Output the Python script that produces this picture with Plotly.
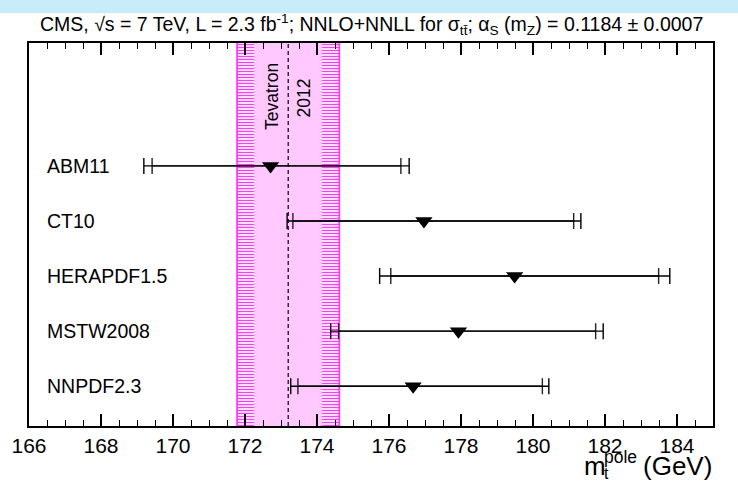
import plotly.graph_objects as go

# ---- data ----
pdf_sets = ["ABM11", "CT10", "HERAPDF1.5", "MSTW2008", "NNPDF2.3"]
row_pos = [5, 4, 3, 2, 1]
mt_pole = [172.71, 176.97, 179.49, 177.93, 176.67]
err_tot_plus = [3.85, 4.36, 4.31, 4.02, 3.77]
err_tot_minus = [3.52, 3.80, 3.75, 3.55, 3.40]
err_in_plus = [3.62, 4.16, 4.00, 3.81, 3.59]
err_in_minus = [3.29, 3.64, 3.44, 3.33, 3.20]

tev_mt = 173.2
tev_inner = 0.94
tev_outer = 1.42

x_ticks = [166, 168, 170, 172, 174, 176, 178, 180, 182, 184]
x_range = [166, 185]
y_range = [0.278, 7.231]

# ---- layout geometry (pixels) ----
W, H = 738, 481
ML, MR, MT, MB = 29, 25, 43, 55
PW, PH = W - ML - MR, H - MT - MB


def px(xp):
    return (xp - ML) / PW


def py(yp):
    return (H - MB - yp) / PH


FONT = "Liberation Sans, Arial, Helvetica, sans-serif"

fig = go.Figure()

# Tevatron band: hatched outer parts and solid inner part
pink = "#ffc8ff"
mag = "#ff3cff"
band_mid = (y_range[0] + y_range[1]) / 2
band_w = (y_range[1] - y_range[0]) * 1.5
for base, width, hatched in [
    (tev_mt - tev_outer, tev_outer - tev_inner, True),
    (tev_mt - tev_inner, 2 * tev_inner, False),
    (tev_mt + tev_inner, tev_outer - tev_inner, True),
]:
    marker = dict(color=pink, line=dict(width=0))
    if hatched:
        marker["pattern"] = dict(shape="-", size=3, solidity=0.4,
                                 fgcolor=mag, bgcolor="#ffeeff", fillmode="replace")
    fig.add_trace(go.Bar(
        x=[width], base=[base], y=[band_mid], width=[band_w],
        orientation="h", marker=marker, showlegend=False, hoverinfo="skip"))

# band edge lines
for xe in [tev_mt - tev_outer, tev_mt + tev_outer]:
    fig.add_trace(go.Scatter(x=[xe, xe], y=y_range, mode="lines",
                             line=dict(color=mag, width=1.8),
                             showlegend=False, hoverinfo="skip"))
# Tevatron central value (dashed)
fig.add_trace(go.Scatter(x=[tev_mt, tev_mt], y=y_range, mode="lines",
                         line=dict(color="black", width=1.2, dash="4px,3px"),
                         showlegend=False, hoverinfo="skip"))

# inner uncertainty caps
fig.add_trace(go.Scatter(
    x=mt_pole, y=row_pos, mode="markers",
    marker=dict(size=1, color="rgba(0,0,0,0)"),
    error_x=dict(type="data", symmetric=False, array=err_in_plus,
                 arrayminus=err_in_minus, color="#222222", thickness=1.4, width=8),
    showlegend=False, hoverinfo="skip"))
# total uncertainty + central values
fig.add_trace(go.Scatter(
    x=mt_pole, y=row_pos, mode="markers",
    marker=dict(symbol="triangle-down", size=15, color="black"),
    error_x=dict(type="data", symmetric=False, array=err_tot_plus,
                 arrayminus=err_tot_minus, color="black", thickness=1.4, width=8),
    showlegend=False, hoverinfo="skip"))

annotations = []
for name, yv in zip(pdf_sets, row_pos):
    annotations.append(dict(x=px(45), y=yv, xref="paper", yref="y", text=name,
                            showarrow=False, xanchor="left", yanchor="middle",
                            font=dict(family=FONT, size=19.5, color="black")))

annotations.append(dict(x=tev_mt - 0.45, y=py(97), xref="x", yref="paper",
                        text="Tevatron", textangle=-90, showarrow=False,
                        xanchor="center", yanchor="middle",
                        font=dict(family=FONT, size=17.5, color="black")))
annotations.append(dict(x=tev_mt + 0.45, y=py(98), xref="x", yref="paper",
                        text="2012", textangle=-90, showarrow=False,
                        xanchor="center", yanchor="middle",
                        font=dict(family=FONT, size=17.5, color="black")))

# axis title pieces
annotations.append(dict(x=px(582), y=py(466), xref="paper", yref="paper", text="m",
                        showarrow=False, xanchor="left", yanchor="middle",
                        font=dict(family=FONT, size=26, color="black")))
annotations.append(dict(x=px(602), y=py(457), xref="paper", yref="paper", text="pole",
                        showarrow=False, xanchor="left", yanchor="middle",
                        font=dict(family=FONT, size=17.5, color="black")))
annotations.append(dict(x=px(602), y=py(473), xref="paper", yref="paper", text="t",
                        showarrow=False, xanchor="left", yanchor="middle",
                        font=dict(family=FONT, size=16, color="black")))
annotations.append(dict(x=px(714), y=py(466), xref="paper", yref="paper", text="(GeV)",
                        showarrow=False, xanchor="right", yanchor="middle",
                        font=dict(family=FONT, size=26, color="black")))

# title
annotations.append(dict(
    x=px(371), y=py(25), xref="paper", yref="paper", showarrow=False,
    xanchor="center", yanchor="middle",
    text=("CMS, √s = 7 TeV, L = 2.3 fb<sup>-1</sup>; NNLO+NNLL for σ<sub>tt̄</sub>; "
          "α<sub>S</sub> (m<sub>Z</sub>) = 0.1184 ± 0.0007"),
    font=dict(family=FONT, size=19.5, color="black")))

shapes = [dict(type="rect", xref="paper", yref="paper",
               x0=px(0), x1=px(W), y0=py(13), y1=py(0),
               fillcolor="#c9ecfb", line=dict(width=0), layer="above")]

fig.update_layout(
    width=W, height=H,
    margin=dict(l=ML, r=MR, t=MT, b=MB, pad=0),
    paper_bgcolor="white", plot_bgcolor="white",
    barmode="overlay", bargap=0,
    showlegend=False,
    annotations=annotations,
    shapes=shapes,
    xaxis=dict(range=x_range, tickvals=x_ticks, ticktext=[str(t) for t in x_ticks],
               ticks="inside", ticklen=12, tickwidth=1.5, tickcolor="black",
               showline=True, linewidth=2, linecolor="black", mirror="ticks",
               showgrid=False, zeroline=False,
               minor=dict(dtick=0.5, tick0=166, ticks="inside", ticklen=6,
                          tickwidth=1.2, tickcolor="black", showgrid=False),
               tickfont=dict(family=FONT, size=21, color="black")),
    yaxis=dict(range=y_range, showticklabels=False, ticks="", showgrid=False,
               zeroline=False, showline=True, linewidth=2, linecolor="black",
               mirror=True),
)

fig.write_html("out.html",
               config={"displayModeBar": False},
               post_script="document.body.style.margin='0px';"
                           "document.body.style.overflow='hidden';")
